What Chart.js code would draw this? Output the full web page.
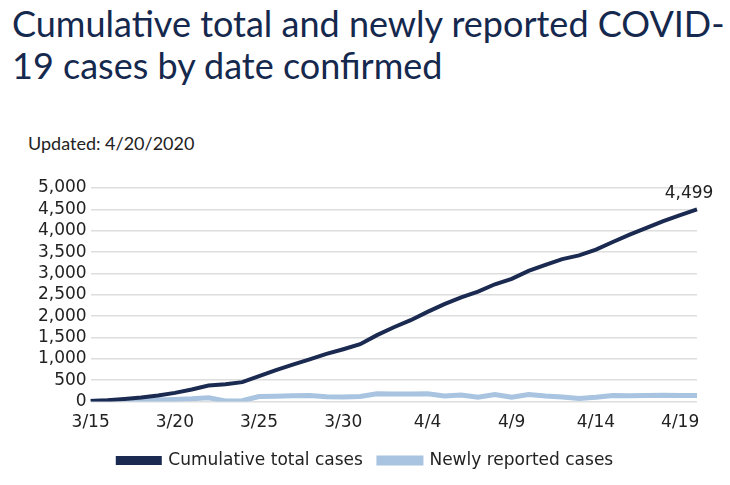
<!DOCTYPE html>
<html>
<head>
<meta charset="utf-8">
<script src="https://cdn.jsdelivr.net/npm/chart.js@4.4.1/dist/chart.umd.min.js"></script>
<style>
    body { margin: 0; background: #fff; }
    #wrap { position: relative; width: 730px; height: 485px; overflow: hidden; }
    h1 {
        position: absolute; left: 12px; top: 2px; margin: 0;
        font-family: Lato, sans-serif; font-weight: normal;
        font-size: 36px; line-height: 42px; color: #15284d;
        white-space: nowrap;
    }
    #updated {
        position: absolute; left: 28px; top: 132px;
        font-family: Lato, sans-serif; font-size: 18px; color: #222;
    }
    #box { position: absolute; left: 0; top: 160px; width: 730px; height: 325px; }
</style>
</head>
<body>
<div id="wrap">
    <h1>Cumulative total and newly reported COVID-<br>19 cases by date confirmed</h1>
    <div id="updated">Updated: 4/20/2020</div>
    <div id="box"><canvas id="chart1"></canvas></div>
</div>
<script>
// dates confirmed, 3/15 - 4/20
const dates = ['3/15', '3/16', '3/17', '3/18', '3/19', '3/20', '3/21', '3/22', '3/23', '3/24',
    '3/25', '3/26', '3/27', '3/28', '3/29', '3/30', '3/31', '4/1', '4/2', '4/3',
    '4/4', '4/5', '4/6', '4/7', '4/8', '4/9', '4/10', '4/11', '4/12', '4/13',
    '4/14', '4/15', '4/16', '4/17', '4/18', '4/19', '4/20'];

const cumulativeCases = [15, 31, 62, 94, 141, 204, 283, 377, 408, 455,
    597, 738, 864, 990, 1116, 1226, 1344, 1556, 1740, 1905,
    2101, 2282, 2439, 2573, 2746, 2872, 3061, 3202, 3336, 3423,
    3557, 3737, 3910, 4067, 4224, 4365, 4499];

const newCases = [8, 12, 20, 30, 40, 50, 65, 90, 15, 20,
    120, 125, 135, 140, 115, 110, 120, 185, 175, 180,
    185, 130, 155, 105, 165, 105, 165, 130, 110, 70,
    100, 140, 135, 145, 150, 140, 140];

const seriesNames = ['Cumulative total cases', 'Newly reported cases'];

// label on the last point of the cumulative line
const endLabel = {
    id: 'endLabel',
    afterDatasetsDraw(chart) {
        const meta = chart.getDatasetMeta(0);
        const last = meta.data[meta.data.length - 1];
        const ctx = chart.ctx;
        ctx.save();
        ctx.font = '17px "DejaVu Sans"';
        ctx.fillStyle = '#222';
        ctx.textAlign = 'center';
        ctx.textBaseline = 'bottom';
        ctx.fillText(cumulativeCases[cumulativeCases.length - 1].toLocaleString('en-US'), last.x - 8, last.y - 7);
        ctx.restore();
    }
};

const ctx = document.getElementById('chart1').getContext('2d');
const chart1 = new Chart(ctx, {
    type: 'line',
    data: {
        labels: dates,
        datasets: [
            {
                label: seriesNames[0],
                data: cumulativeCases,
                borderColor: '#1b2a50',
                backgroundColor: '#1b2a50',
                borderWidth: 4,
                pointRadius: 0,
                tension: 0
            },
            {
                label: seriesNames[1],
                data: newCases,
                borderColor: '#a8c4e0',
                backgroundColor: '#a8c4e0',
                borderWidth: 5,
                pointRadius: 0,
                tension: 0
            }
        ]
    },
    options: {
        responsive: true,
        maintainAspectRatio: false,
        animation: false,
        layout: { padding: { left: 34, right: 33, top: 28, bottom: 6 } },
        plugins: {
            tooltip: { enabled: false },
            legend: {
                position: 'bottom',
                labels: {
                    boxWidth: 42,
                    boxHeight: 5,
                    padding: 16,
                    color: '#222',
                    font: { family: 'DejaVu Sans', size: 17 }
                }
            }
        },
        scales: {
            x: {
                offset: false,
                grid: { display: false },
                border: { display: false },
                ticks: {
                    autoSkip: false,
                    maxRotation: 0,
                    color: '#222',
                    font: { family: 'DejaVu Sans', size: 17 },
                    callback: function (value, index) {
                        return index % 5 === 0 ? dates[index] : '';
                    }
                }
            },
            y: {
                min: 0,
                max: 5000,
                grid: { color: '#dedede', drawTicks: false, lineWidth: 1.5 },
                border: { display: false },
                ticks: {
                    stepSize: 500,
                    autoSkip: false,
                    padding: 4,
                    color: '#222',
                    font: { family: 'DejaVu Sans', size: 17 },
                    callback: function (value) {
                        return value.toLocaleString('en-US');
                    }
                }
            }
        }
    },
    plugins: [endLabel]
});
</script>
</body>
</html>
